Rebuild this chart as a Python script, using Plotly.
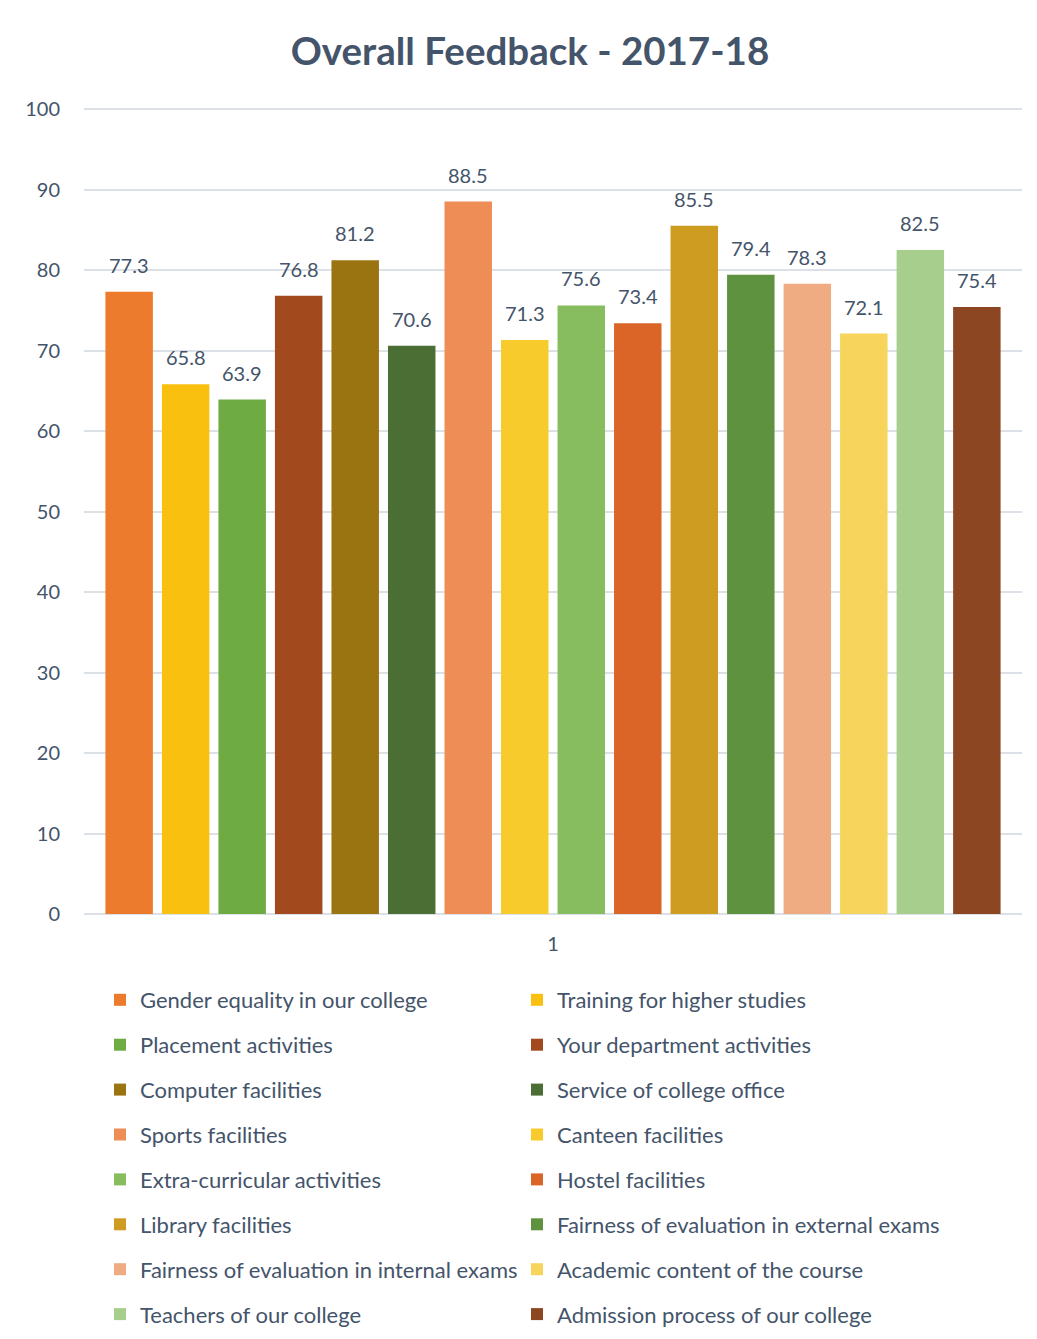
import plotly.graph_objects as go

categories = ["1"]
series_names = [
    "Gender equality in our college",
    "Training for higher studies",
    "Placement activities",
    "Your department activities",
    "Computer facilities",
    "Service of college office",
    "Sports facilities",
    "Canteen facilities",
    "Extra-curricular activities",
    "Hostel facilities",
    "Library facilities",
    "Fairness of evaluation in external exams",
    "Fairness of evaluation in internal exams",
    "Academic content of the course",
    "Teachers of our college",
    "Admission process of our college",
]
series_values = [77.3, 65.8, 63.9, 76.8, 81.2, 70.6, 88.5, 71.3,
                 75.6, 73.4, 85.5, 79.4, 78.3, 72.1, 82.5, 75.4]
colors = ["#ED7B2E", "#FAC010", "#6EAB43", "#A24A1E", "#9A7410", "#4A6E33",
          "#EE8D55", "#F7CB2C", "#87BC5F", "#DA6526", "#CF9C22", "#5F923E",
          "#EFAC82", "#F7D45C", "#A7CE8C", "#8C4622"]
y_ticks = [0, 10, 20, 30, 40, 50, 60, 70, 80, 90, 100]

# page has an 8px body margin, so the figure is 8px smaller in each direction
W, H = 1029, 1331
ML, MR, MT, MB = 76, 15, 99, 425
TXT = "#44546A"
FONT = "Lato"

bargap = 0.036
bargroupgap = 0.16
n = len(series_names)

fig = go.Figure()
for i, (name, val, col) in enumerate(zip(series_names, series_values, colors)):
    fig.add_trace(go.Bar(
        x=categories, y=[val], name=name,
        marker=dict(color=col, line=dict(width=0)),
        legend="legend" if i % 2 == 0 else "legend2",
        legendgroup=f"g{i}",
    ))

# data labels above bars
gw = 1 - bargap
slot = gw / n
annotations = []
for i, val in enumerate(series_values):
    cx = -gw / 2 + slot * (i + 0.5)
    annotations.append(dict(
        x=cx, y=val, xref="x", yref="y", text=f"{val}",
        showarrow=False, yanchor="bottom", xanchor="center", yshift=13,
        font=dict(family=FONT, size=20, color=TXT)))

legend_common = dict(xref="container", yref="container", xanchor="left",
                     yanchor="top", orientation="v", tracegroupgap=13.3,
                     font=dict(family=FONT, size=22, color=TXT),
                     bgcolor="rgba(0,0,0,0)")

fig.update_layout(
    width=W, height=H,
    margin=dict(l=ML, r=MR, t=MT, b=MB, autoexpand=False),
    paper_bgcolor="white",
    plot_bgcolor="white",
    barmode="group",
    bargap=bargap,
    bargroupgap=bargroupgap,
    font=dict(family=FONT, size=20, color=TXT),
    title=dict(text="<b>Overall Feedback - 2017-18</b>", xref="container",
               yref="container", x=522 / W, xanchor="center",
               y=1 - 44 / H, yanchor="middle",
               font=dict(family=FONT, size=38.5, color=TXT)),
    xaxis=dict(type="category", showgrid=False, showline=False, ticks="",
               tickfont=dict(family=FONT, size=20, color=TXT),
               ticklabelstandoff=16, range=[-0.5, 0.5]),
    yaxis=dict(range=[0, 100.25], tickvals=y_ticks, showgrid=True,
               gridcolor="#DCE0E7", gridwidth=1.5, zeroline=True,
               zerolinecolor="#DCE0E7", zerolinewidth=2, showline=False,
               ticks="", ticklabelstandoff=23,
               tickfont=dict(family=FONT, size=20, color=TXT)),
    legend=dict(x=92 / W, y=1 - 971 / H, **legend_common),
    legend2=dict(x=509 / W, y=1 - 971 / H, **legend_common),
    annotations=annotations,
    showlegend=True,
)

fig.write_html("out.html")
